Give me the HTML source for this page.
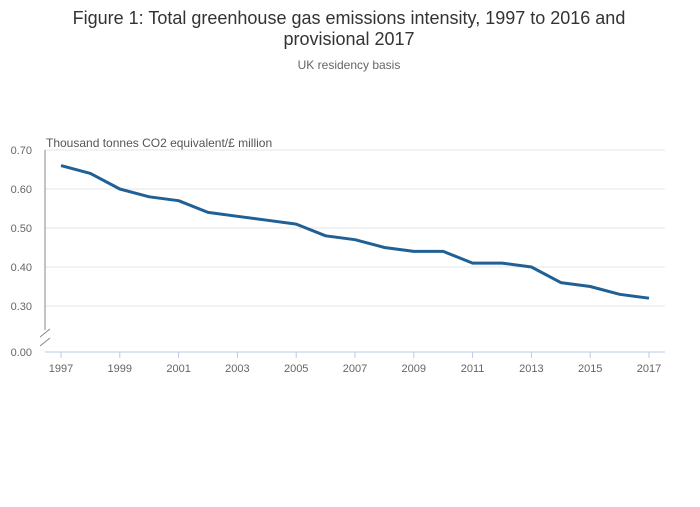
<!DOCTYPE html>
<html><head><meta charset="utf-8"><style>
body{margin:0;background:#fff;width:700px;height:502px;overflow:hidden;font-family:"Liberation Sans",sans-serif}
</style></head><body>
<svg width="700" height="502" id="svg">
<text x="349" y="24" text-anchor="middle" font-size="18" fill="#333">Figure 1: Total greenhouse gas emissions intensity, 1997 to 2016 and</text>
<text x="349" y="45" text-anchor="middle" font-size="18" fill="#333">provisional 2017</text>
<text x="349" y="69" text-anchor="middle" font-size="12" fill="#666">UK residency basis</text>
<text x="46" y="147" font-size="12" fill="#555">Thousand tonnes CO2 equivalent/£ million</text>
<g id="grid"></g>
<line x1="45" y1="150" x2="45" y2="330" stroke="#888" stroke-width="1"/>
<line x1="40" y1="337" x2="50" y2="329" stroke="#888"/>
<line x1="40" y1="346" x2="50" y2="338" stroke="#888"/>
<line x1="45" y1="352" x2="665" y2="352" stroke="#b8cce4"/>
<text x="32" y="356" text-anchor="end" font-size="11" fill="#666">0.00</text>
<g id="xt"></g>
<path id="line" fill="none" stroke="#206095" stroke-width="3" stroke-linejoin="round"/>
</svg>
<script>
const years=[1997,1998,1999,2000,2001,2002,2003,2004,2005,2006,2007,2008,2009,2010,2011,2012,2013,2014,2015,2016,2017];
const values=[0.66,0.64,0.60,0.58,0.57,0.54,0.53,0.52,0.51,0.48,0.47,0.45,0.44,0.44,0.41,0.41,0.40,0.36,0.35,0.33,0.32];
const yTicks=[0.30,0.40,0.50,0.60,0.70];
const xTicks=[1997,1999,2001,2003,2005,2007,2009,2011,2013,2015,2017];
const NS='http://www.w3.org/2000/svg';
const x=v=>61+(v-1997)*(649-61)/20;
const y=v=>306-(v-0.30)*390;
const grid=document.getElementById('grid');
yTicks.forEach(t=>{
 const l=document.createElementNS(NS,'line');
 l.setAttribute('x1',45);l.setAttribute('x2',665);l.setAttribute('y1',y(t));l.setAttribute('y2',y(t));
 l.setAttribute('stroke','#e6e6e6');
 
 
 grid.appendChild(l);
 const tx=document.createElementNS(NS,'text');
 tx.setAttribute('x',32);tx.setAttribute('y',y(t)+4);tx.setAttribute('text-anchor','end');
 tx.setAttribute('font-size','11');tx.setAttribute('fill','#666');tx.textContent=t.toFixed(2);
 
 
 grid.appendChild(tx);
});
const xt=document.getElementById('xt');
xTicks.forEach(t=>{
 const l=document.createElementNS(NS,'line');
 l.setAttribute('x1',x(t));l.setAttribute('x2',x(t));l.setAttribute('y1',352);l.setAttribute('y2',358);
 l.setAttribute('stroke','#b8cce4');
 
 
 xt.appendChild(l);
 const tx=document.createElementNS(NS,'text');
 tx.setAttribute('x',x(t));tx.setAttribute('y',372);tx.setAttribute('text-anchor','middle');
 tx.setAttribute('font-size','11');tx.setAttribute('fill','#666');tx.textContent=t;
 
 
 xt.appendChild(tx);
});
document.getElementById('line').setAttribute('d',years.map((yr,i)=>(i?'L':'M')+x(yr)+','+y(values[i])).join(''));
</script>
</body></html>
